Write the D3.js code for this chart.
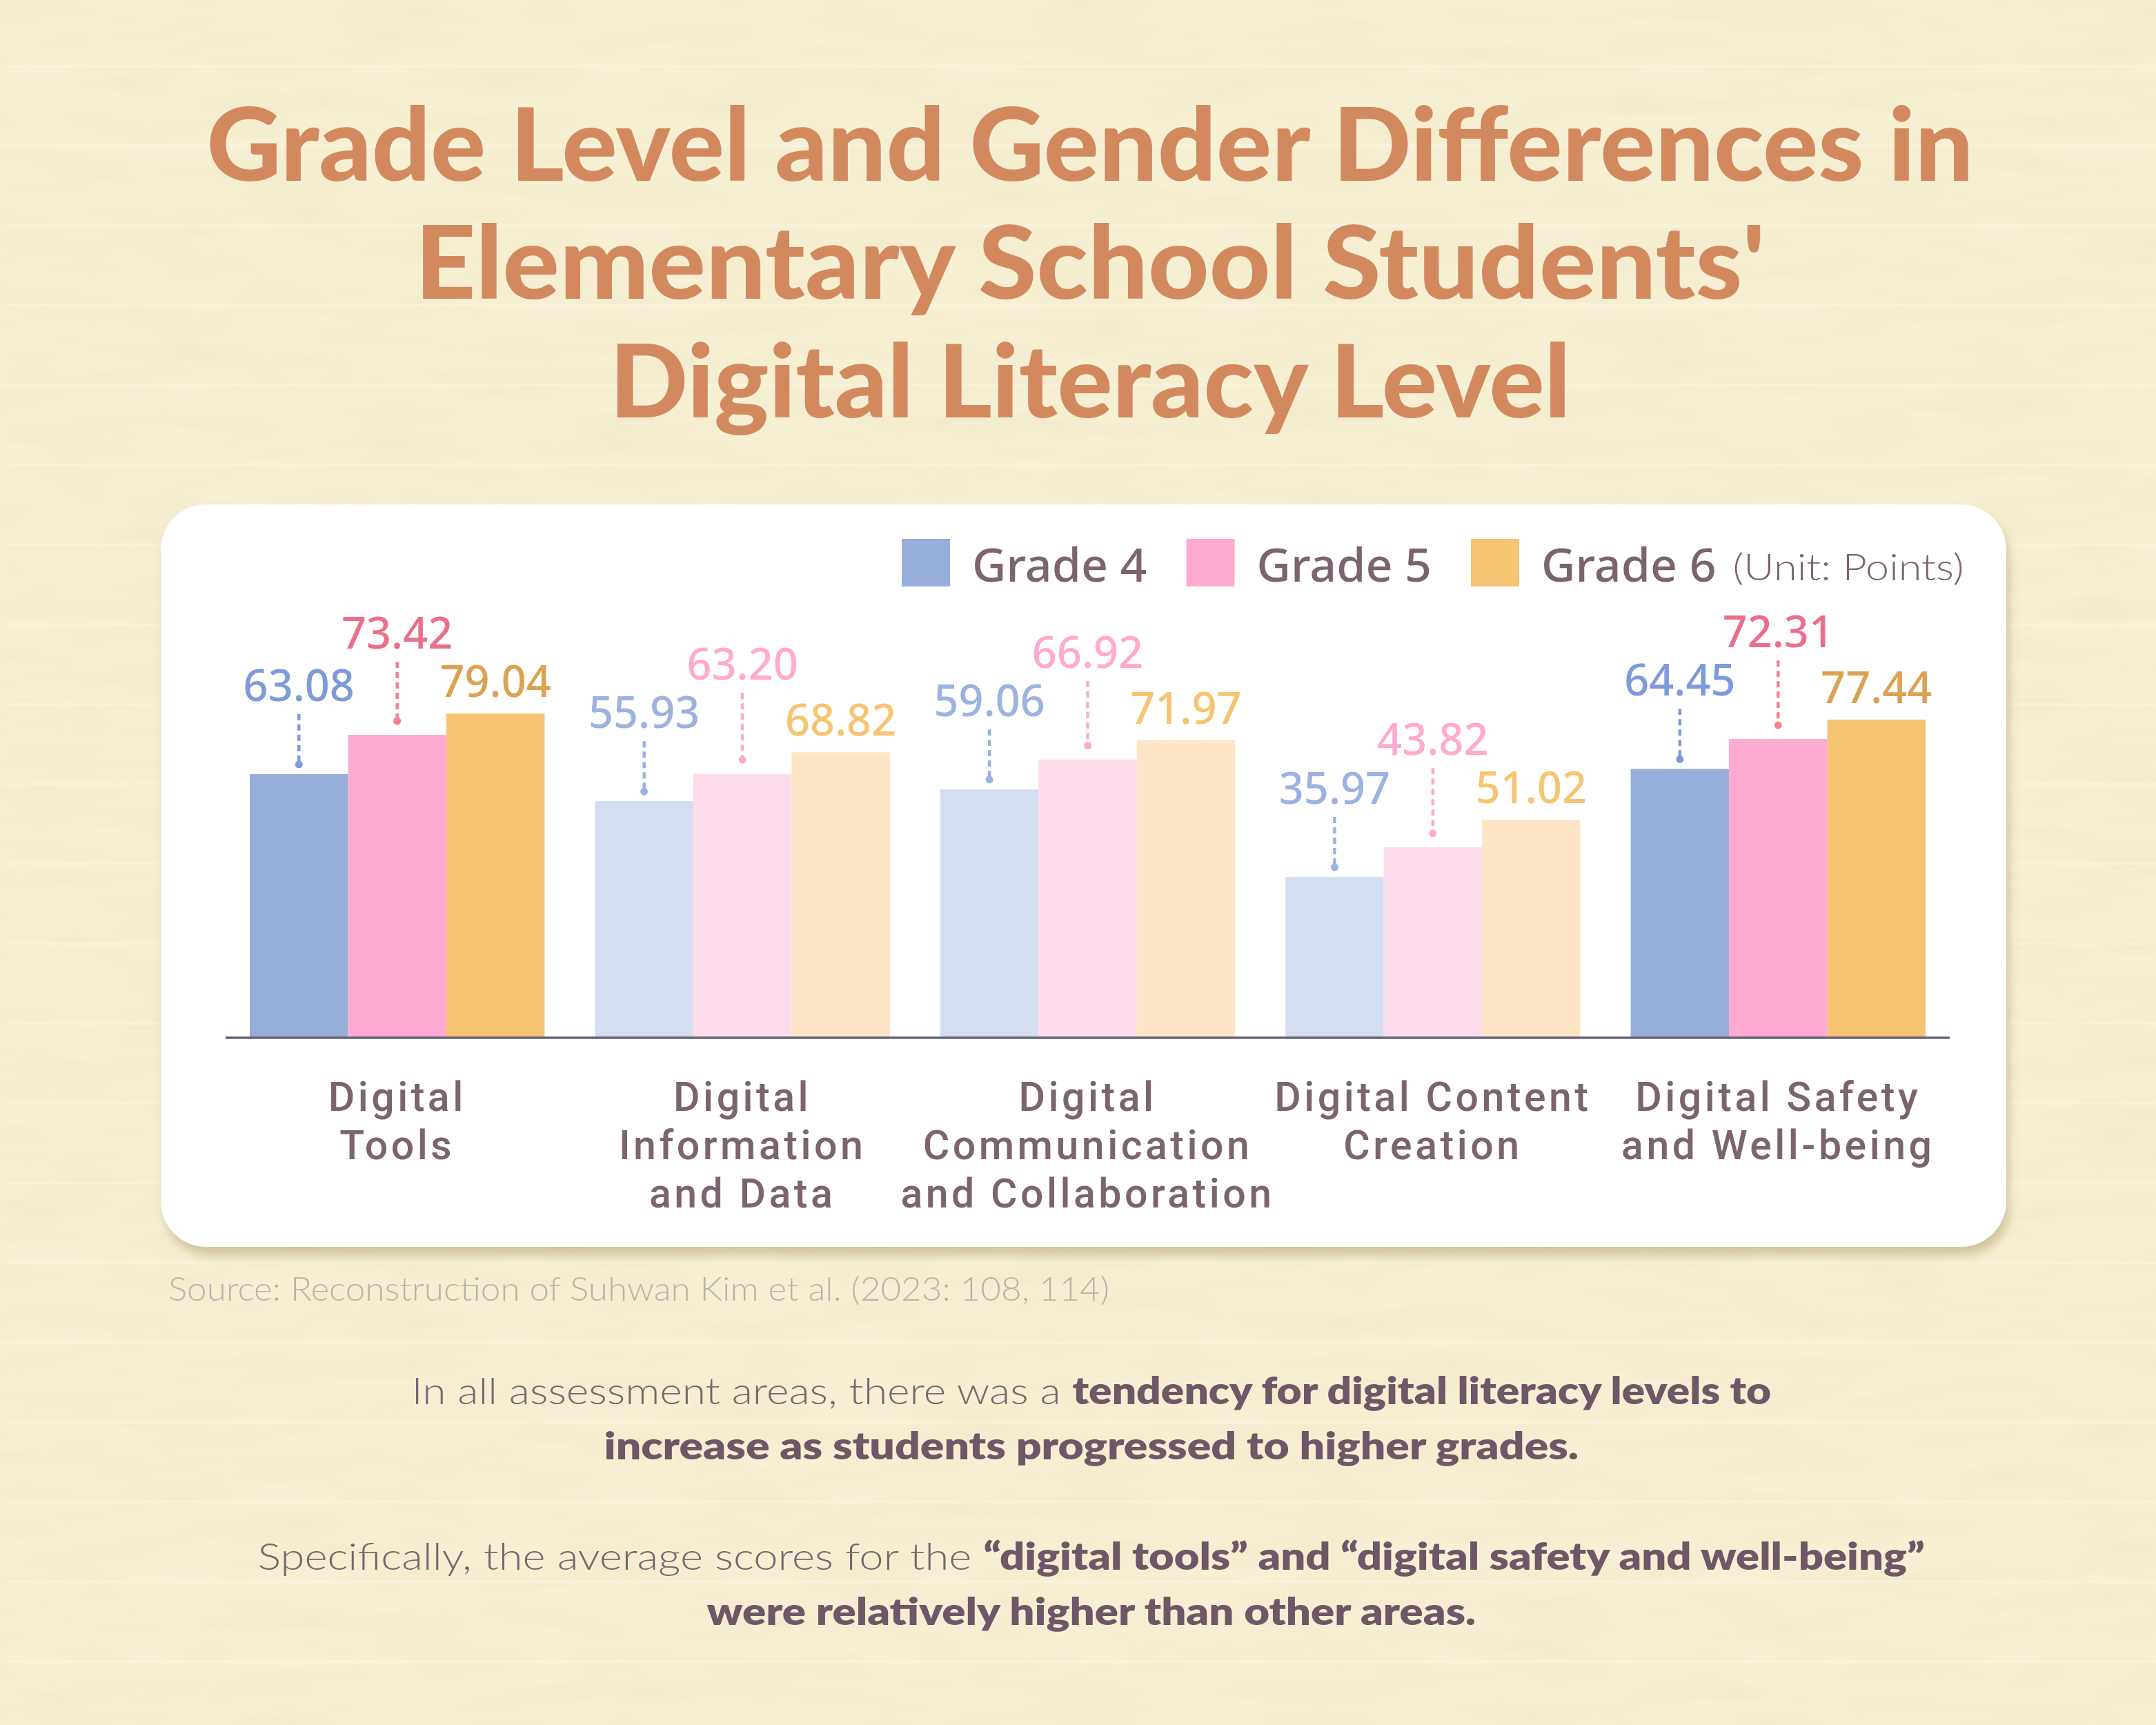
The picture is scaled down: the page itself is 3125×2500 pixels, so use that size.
<!DOCTYPE html>
<html><head><meta charset="utf-8">
<script src="https://cdn.jsdelivr.net/npm/d3@7"></script>
<style>body{margin:0;background:#F7EFD3;} svg{display:block}</style>
</head><body>
<script>
// ---------- DATA ----------
const titleLines = ["Grade Level and Gender Differences in", "Elementary School Students'", "Digital Literacy Level"];
const categoryLines = [["Digital","Tools"],["Digital","Information","and Data"],["Digital","Communication","and Collaboration"],["Digital Content","Creation"],["Digital Safety","and Well-being"]];
const categories = categoryLines.map(l => l.join(" "));
const seriesNames = ["Grade 4","Grade 5","Grade 6"];
const grade4 = [63.08, 55.93, 59.06, 35.97, 64.45];
const grade5 = [73.42, 63.20, 66.92, 43.82, 72.31];
const grade6 = [79.04, 68.82, 71.97, 51.02, 77.44];
const highlighted = ["Digital Tools", "Digital Safety and Well-being"];
const unitLabel = "(Unit: Points)";
const sourceText = "Source: Reconstruction of Suhwan Kim et al. (2023: 108, 114)";
const footerLines = [
  [["In all assessment areas, there was a ", false], ["tendency for digital literacy levels to", true]],
  [["increase as students progressed to higher grades.", true]],
  [["Specifically, the average scores for the ", false], ["\u201Cdigital tools\u201D and \u201Cdigital safety and well-being\u201D", true]],
  [["were relatively higher than other areas.", true]]
];

// ---------- STYLE ----------
const W = 3125, H = 2500;
const barFull  = ["#97AEDB", "#FFAAD0", "#F6C473"];
const barLight = ["#D4DEF0", "#FDDCEB", "#FCE6C5"];
const lblFull  = ["#7E9ADB", "#EA7089", "#DAA252"];
const lblLight = ["#9CB2DF", "#FFAACF", "#F6C472"];
const leadFull = ["#7E9ADB", "#F5818F"];
const textCol = "#7B646F";

const svg = d3.select("body").append("svg").attr("width", W).attr("height", H);
const defs = svg.append("defs");
const sh = defs.append("filter").attr("id","sh").attr("x","-5%").attr("y","-5%").attr("width","112%").attr("height","115%");
sh.append("feDropShadow").attr("dx",5).attr("dy",13).attr("stdDeviation",7).attr("flood-color","#9C8A55").attr("flood-opacity",0.4);
const paper = defs.append("filter").attr("id","paper").attr("x",0).attr("y",0).attr("width","100%").attr("height","100%");
paper.append("feTurbulence").attr("type","fractalNoise").attr("baseFrequency","0.006 0.03").attr("numOctaves",3).attr("seed",4);
paper.append("feColorMatrix").attr("type","matrix").attr("values","0 0 0 0 0.75  0 0 0 0 0.68  0 0 0 0 0.45  0.35 0 0 0 -0.12");

// background
svg.append("rect").attr("width",W).attr("height",H).attr("fill","#F8F0D4");
svg.append("rect").attr("width",W).attr("height",H).attr("filter","url(#paper)");
svg.append("g").selectAll("line").data(d3.range(0, 22)).join("line")
  .attr("x1", 8).attr("x2", W).attr("y1", k => 96 + 115.6*k).attr("y2", k => 96 + 115.6*k)
  .attr("stroke", "#FBF5E3").attr("stroke-width", 4).attr("opacity", 0.6);

// title
svg.append("g").selectAll("text").data(titleLines).join("text")
  .attr("x", 1580).attr("y", (d,i) => [262, 433, 605][i])
  .attr("text-anchor","middle")
  .attr("textLength", (d,i) => [2561, 1957, 1393][i]).attr("lengthAdjust","spacingAndGlyphs")
  .attr("font-family","Lato, 'Noto Sans', sans-serif").attr("font-weight",900).attr("font-size",146)
  .attr("fill","#D3895E").text(d => d);

// card
svg.append("rect").attr("x",233).attr("y",731).attr("width",2675).attr("height",1076).attr("rx",66)
  .attr("fill","#FFFFFF").attr("filter","url(#sh)");

// scales
const x0 = d3.scaleBand().domain(categories).range([327, 2826]).paddingInner(0.146).paddingOuter(0.07);
const x1 = d3.scaleBand().domain(seriesNames).range([0, x0.bandwidth()]);
const y = d3.scaleLinear().domain([-6.4, 80]).range([1504, 1504 - 5.5*86.4]);
const series = [grade4, grade5, grade6];

const rows = categories.map((c, i) => ({cat: c, hl: highlighted.includes(c), vals: series.map(s => s[i])}));

const g = svg.append("g");
const groups = g.selectAll("g.grp").data(rows).join("g").attr("class","grp")
  .attr("transform", d => `translate(${x0(d.cat)},0)`);

groups.selectAll("rect").data(d => d.vals.map((v, k) => ({v, k, hl: d.hl}))).join("rect")
  .attr("x", d => x1(seriesNames[d.k])).attr("width", x1.bandwidth())
  .attr("y", d => y(d.v)).attr("height", d => y(y.domain()[0]) - y(d.v))
  .attr("fill", d => (d.hl ? barFull : barLight)[d.k]);

// baseline axis
svg.append("line").attr("x1", 327).attr("x2", 2826).attr("y1", 1504).attr("y2", 1504)
  .attr("stroke", "#67627D").attr("stroke-width", 3.5);

// value labels with leader lines
groups.each(function(d) {
  const grp = d3.select(this);
  const top = d.vals.map(v => y(v));
  const ly = [];
  ly[2] = top[2] - 24;
  ly[0] = top[0] - 106;
  ly[1] = Math.min(ly[0], ly[2]) - 70;
  const lc = d.hl ? lblFull : lblLight;
  const leads = d.hl ? leadFull : lblLight;
  [0, 1].forEach(k => {
    const cx = x1(seriesNames[k]) + x1.bandwidth()/2;
    const yEnd = top[k] - (k === 0 ? 14 : 20);
    grp.append("line").attr("x1", cx).attr("x2", cx).attr("y1", ly[k] + 19).attr("y2", yEnd)
      .attr("stroke", leads[k]).attr("stroke-width", 4.5).attr("stroke-dasharray", "9 6");
    grp.append("circle").attr("cx", cx).attr("cy", yEnd).attr("r", 5.5).attr("fill", leads[k]);
  });
  d.vals.forEach((v, k) => {
    grp.append("text").attr("x", x1(seriesNames[k]) + x1.bandwidth()/2).attr("y", ly[k])
      .attr("text-anchor","middle").attr("font-family","'Noto Sans', sans-serif").attr("font-weight",500)
      .attr("font-size", 63).attr("fill", lc[k]).text(d3.format(".2f")(v));
  });
});

// x labels (one text per line)
const xg = svg.append("g");
categories.forEach((c, i) => {
  categoryLines[i].forEach((line, j) => {
    xg.append("text").attr("x", x0(c) + x0.bandwidth()/2).attr("y", 1610 + 70*j)
      .attr("text-anchor","middle").attr("font-family","Roboto, sans-serif").attr("font-weight",500)
      .attr("font-size", 59).attr("letter-spacing", 4.5).attr("fill", textCol).text(line);
  });
});

// legend
const leg = svg.append("g");
let lx = 1307;
seriesNames.forEach((n, k) => {
  leg.append("rect").attr("x", lx).attr("y", 781).attr("width", 70).attr("height", 69).attr("fill", barFull[k]);
  const t = leg.append("text").attr("x", lx + 102).attr("y", 843)
    .attr("font-family","'Noto Sans', sans-serif").attr("font-weight",500).attr("font-size",68)
    .attr("fill", textCol).text(n);
  const w = t.node().getComputedTextLength();
  lx = lx + 102 + w + (k < 2 ? 57 : 24);
});
leg.append("text").attr("x", lx).attr("y", 841)
  .attr("font-family","Lato, 'Noto Sans', sans-serif").attr("font-weight",300).attr("font-size",54)
  .attr("textLength", 335).attr("lengthAdjust","spacingAndGlyphs")
  .attr("fill", textCol).text(unitLabel);

// source
svg.append("text").attr("x", 244).attr("y", 1885)
  .attr("font-family","Lato, sans-serif").attr("font-weight",300).attr("font-size",48)
  .attr("textLength", 1364).attr("lengthAdjust","spacingAndGlyphs")
  .attr("fill","#B9B2AC").text(sourceText);

// footer
const footerY = [2035, 2115, 2275, 2355];
const footerW = [1971, 1413, 2417, 1115];
footerLines.forEach((parts, i) => {
  const t = svg.append("text").attr("x", 0).attr("y", 0)
    .attr("font-family","Lato, 'Noto Sans', sans-serif").attr("font-size", 54).attr("fill", textCol);
  parts.forEach(([s, b]) => {
    t.append("tspan").attr("font-weight", b ? 800 : 300).attr("fill", b ? "#6E5766" : textCol)
      .style("white-space","pre").text(s);
  });
  const bb = t.node().getBBox();
  const sx = footerW[i] / bb.width;
  t.attr("transform", `translate(${1582 - footerW[i]/2},${footerY[i]}) scale(${sx},1)`);
});
</script>
</body></html>
